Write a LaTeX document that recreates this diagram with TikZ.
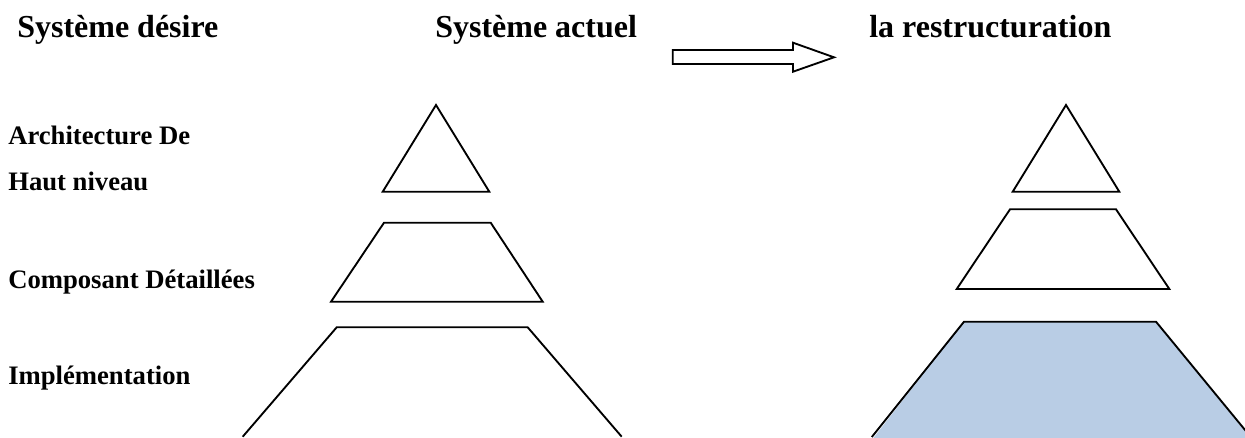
\documentclass[tikz,border=0pt]{standalone}
\usepackage{fontspec}
\setmainfont{Liberation Serif}
\definecolor{layerblue}{HTML}{B9CDE5}
\begin{document}
\begin{tikzpicture}[x=0.75pt,y=-0.75pt,
  title/.style={anchor=base west,inner sep=0pt,font=\fontsize{24}{28}\selectfont\bfseries},
  label/.style={anchor=base west,inner sep=0pt,font=\fontsize{20}{24}\selectfont\bfseries},
  layer/.style={draw=black,line width=1.4pt,line join=miter},
  bigarrow/.style={draw=black,line width=1.4pt,fill=white}]
\useasboundingbox (0,0) rectangle (1245,437);
\clip (0,0) rectangle (1245,437);

% column titles
\node[title] (t1) at (17,37) {Système désire};
\node[title] (t2) at (435,37) {Système actuel};
\node[title] (t3) at (869,37) {la restructuration};

% block arrow between the two right titles
\draw[bigarrow] (672.7,50) -- (793,50) -- (793,42.7) -- (834,57.3)
  -- (793,71.7) -- (793,64) -- (672.7,64) -- cycle;

% level labels
\node[label] (l1) at (8,144) {Architecture De};
\node[label] (l2) at (8,190) {Haut niveau};
\node[label] (l3) at (8,288) {Composant Détaillées};
\node[label] (l4) at (8,384) {Implémentation};

% current system: three levels
\draw[layer] (436,105) -- (489.3,191.7) -- (382.7,191.7) -- cycle;
\draw[layer] (384,222.7) -- (490.7,222.7) -- (542.7,301.7) -- (331,301.7) -- cycle;
\draw[layer] (242.7,436.7) -- (336.7,327.3) -- (527.7,327.3) -- (621.7,436.7);

% restructured system: three levels, the lowest one highlighted
\draw[layer] (1066,105) -- (1119.3,191.7) -- (1012.7,191.7) -- cycle;
\draw[layer] (1010,209.3) -- (1116,209.3) -- (1169.3,289) -- (956.7,289) -- cycle;
\fill[layerblue] (871.8,440) -- (964,321.7) -- (1156,321.7) -- (1252,440) -- cycle;
\draw[layer] (871.8,437) -- (964,321.7) -- (1156,321.7) -- (1250.8,437);
\end{tikzpicture}
\end{document}
